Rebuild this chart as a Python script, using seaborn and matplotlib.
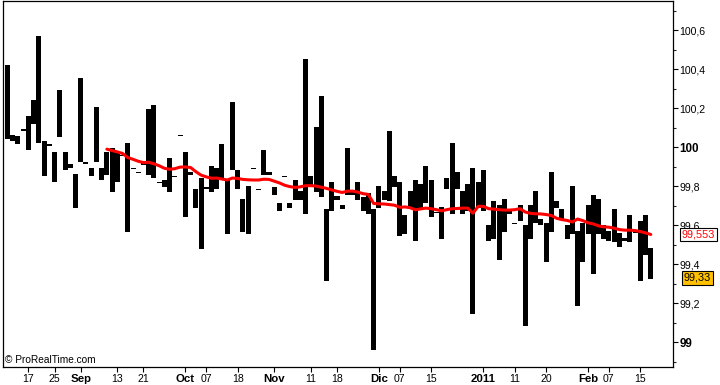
import matplotlib
matplotlib.use("Agg")
import matplotlib.pyplot as plt
import matplotlib.transforms as mtransforms
import numpy as np
import pandas as pd
import seaborn as sns

# ---- data ----
highs = [100.42, 100.064, 100.055, 100.095, 100.158, 100.244, 100.572, 100.033, 100.018, 99.977,
         100.295, 99.977, 99.915, 99.864, 100.356, 99.926, 99.895, 100.208, 99.895, 99.977,
         99.997, 99.97, 99.96, 100.023, 99.895, 99.873, 99.927, 100.197, 100.218, 99.82,
         99.833, 99.946, 99.854, 100.063, 99.977, 99.873, 99.787, 99.844, 99.797, 99.905,
         99.895, 100.018, 99.833, 100.233, 99.885, 99.736, 99.803, 99.895, 99.786, 99.987,
         99.874, 99.797, 99.715, 99.854, 99.715, 99.833, 99.777, 100.454, 99.854, 100.105,
         100.264, 99.685, 99.823, 99.748, 99.705, 99.997, 99.777, 99.823, 99.746, 99.767,
         99.685, 99.803, 99.777, 100.085, 99.854, 99.823, 99.654, 99.777, 99.833, 99.813,
         99.905, 99.833, 99.666, 99.695, 99.844, 100.023, 99.874, 99.777, 99.813, 99.895,
         99.823, 99.885, 99.603, 99.726, 99.705, 99.736, 99.681, 99.613, 99.705, 99.603,
         99.705, 99.777, 99.633, 99.613, 99.874, 99.726, 99.685, 99.603, 99.803, 99.572,
         99.613, 99.705, 99.756, 99.736, 99.603, 99.572, 99.685, 99.562, 99.536, 99.654,
         99.568, 99.623, 99.654, 99.485]
lows = [100.04, 100.03, 100.018, 100.081, 99.984, 100.12, 100.021, 99.85, 100.004, 99.82,
        100.05, 99.881, 99.891, 99.69, 99.922, 99.912, 99.85, 99.922, 99.83, 99.86,
        99.773, 99.82, 99.955, 99.568, 99.89, 99.868, 99.91, 99.86, 99.84, 99.815,
        99.794, 99.773, 99.849, 100.058, 99.64, 99.86, 99.69, 99.481, 99.784, 99.773,
        99.784, 99.833, 99.553, 99.881, 99.784, 99.568, 99.553, 99.89, 99.781, 99.86,
        99.86, 99.753, 99.671, 99.849, 99.69, 99.732, 99.732, 99.66, 99.8, 99.773,
        99.743, 99.317, 99.671, 99.732, 99.683, 99.753, 99.753, 99.732, 99.671, 99.66,
        98.963, 99.69, 99.732, 99.722, 99.794, 99.543, 99.553, 99.69, 99.522, 99.69,
        99.712, 99.64, 99.661, 99.532, 99.784, 99.66, 99.784, 99.66, 99.671, 99.146,
        99.69, 99.671, 99.522, 99.532, 99.42, 99.568, 99.66, 99.608, 99.62, 99.086,
        99.532, 99.613, 99.6, 99.41, 99.568, 99.69, 99.633, 99.532, 99.553, 99.189,
        99.41, 99.553, 99.348, 99.553, 99.532, 99.522, 99.512, 99.491, 99.522, 99.512,
        99.563, 99.317, 99.45, 99.327]
ma_start = 19
ma_values = [99.99, 99.983, 99.976, 99.968, 99.947, 99.938, 99.928, 99.921, 99.923, 99.915,
             99.905, 99.892, 99.887, 99.89, 99.898, 99.899, 99.896, 99.875, 99.857, 99.848,
             99.841, 99.842, 99.837, 99.832, 99.842, 99.84, 99.835, 99.833, 99.832, 99.832,
             99.836, 99.835, 99.826, 99.817, 99.805, 99.798, 99.794, 99.797, 99.803, 99.803,
             99.801, 99.795, 99.789, 99.781, 99.774, 99.768, 99.775, 99.775, 99.77, 99.762,
             99.758, 99.712, 99.71, 99.709, 99.706, 99.703, 99.692, 99.694, 99.69, 99.679,
             99.684, 99.688, 99.685, 99.68, 99.674, 99.68, 99.685, 99.686, 99.688, 99.688,
             99.662, 99.697, 99.697, 99.685, 99.683, 99.68, 99.678, 99.678, 99.68, 99.685,
             99.668, 99.661, 99.659, 99.658, 99.655, 99.65, 99.636, 99.629, 99.625, 99.617,
             99.632, 99.624, 99.613, 99.607, 99.597, 99.592, 99.59, 99.585, 99.578, 99.575,
             99.575, 99.573, 99.568, 99.561, 99.553]
last_close = 99.33
last_ma = 99.553
last_close_label = "99,33"
last_ma_label = "99,553"

xtick_pos = [4, 9, 14, 21, 26, 34, 38, 44, 51, 58, 63, 71, 75, 81, 91, 97, 103, 111, 115, 121]
xtick_labels = ["17", "25", "Sep", "13", "21", "Oct", "07", "18", "Nov", "11", "18",
                "Dic", "07", "15", "2011", "11", "20", "Feb", "07", "15"]
bold_xlabels = {"Sep", "Oct", "Nov", "Dic", "2011", "Feb"}

ytick_vals = [99.0, 99.2, 99.4, 99.6, 99.8, 100.0, 100.2, 100.4, 100.6]
ytick_labels = ["99", "99,2", "99,4", "99,6", "99,8", "100", "100,2", "100,4", "100,6"]
bold_ylabels = {"99", "100"}
yminor_vals = [98.9, 99.1, 99.3, 99.5, 99.7, 99.9, 100.1, 100.3, 100.5, 100.7]

# ---- build frames ----
bars = pd.DataFrame({"idx": np.arange(len(highs)), "high": highs, "low": lows})
bars["span"] = np.maximum(bars["high"] - bars["low"], 0.005)
ma = pd.DataFrame({"idx": np.arange(ma_start, ma_start + len(ma_values)), "ma": ma_values})

sns.set_style("white")
plt.rcParams["font.family"] = ["Liberation Sans", "DejaVu Sans"]

fig = plt.figure(figsize=(7.2, 3.85), dpi=100)
ax = fig.add_axes([2.5 / 720, 18 / 385, 670.5 / 720, 366 / 385])

ax.bar(bars["idx"], bars["span"], bottom=bars["low"], width=0.96,
       color="black", linewidth=0, zorder=2)
sns.lineplot(data=ma, x="idx", y="ma", color="#ff0000", linewidth=2.2, ax=ax, zorder=3)

ax.set_xlim(-0.96, 127.25)
ax.set_ylim(98.874, 100.749)
ax.set_xlabel("")
ax.set_ylabel("")

for s in ax.spines.values():
    s.set_visible(True)
    s.set_color("black")
    s.set_linewidth(0.9)

ax.yaxis.tick_right()
ax.set_yticks(ytick_vals)
ax.set_yticklabels(ytick_labels)
ax.set_yticks(yminor_vals, minor=True)
ax.tick_params(axis="y", which="major", direction="out", length=3.6, width=0.8,
               pad=1.2, labelsize=7.6, colors="black", right=True, left=False)
ax.tick_params(axis="y", which="minor", direction="out", length=2.2, width=0.8,
               right=True, left=False)
for t in ax.get_yticklabels():
    if t.get_text() in bold_ylabels:
        t.set_fontweight("bold")
        t.set_fontsize(8.4)

ax.set_xticks(xtick_pos)
ax.set_xticklabels(xtick_labels)
ax.tick_params(axis="x", which="major", direction="out", length=3.6, width=0.8,
               pad=1.5, labelsize=7.6, colors="black", bottom=True)
for t in ax.get_xticklabels():
    if t.get_text() in bold_xlabels:
        t.set_fontweight("bold")
        t.set_fontsize(8.2)

trans = mtransforms.blended_transform_factory(ax.transAxes, ax.transData)
ax.text(1.013, last_ma, last_ma_label, transform=trans, ha="left", va="center",
        color="#ff0000", fontsize=7.8, clip_on=False, zorder=5,
        bbox=dict(boxstyle="square,pad=0.18", fc="white", ec="black", lw=0.8))
ax.text(1.016, last_close, last_close_label, transform=trans, ha="left", va="center",
        color="black", fontsize=7.8, clip_on=False, zorder=5,
        bbox=dict(boxstyle="square,pad=0.18", fc="#ffc000", ec="black", lw=0.8))

ax.text(0.004, 0.006, "\u00a9 ProRealTime.com", transform=ax.transAxes,
        ha="left", va="bottom", fontsize=7.3, color="black")

fig.savefig("out.png", dpi=100)
